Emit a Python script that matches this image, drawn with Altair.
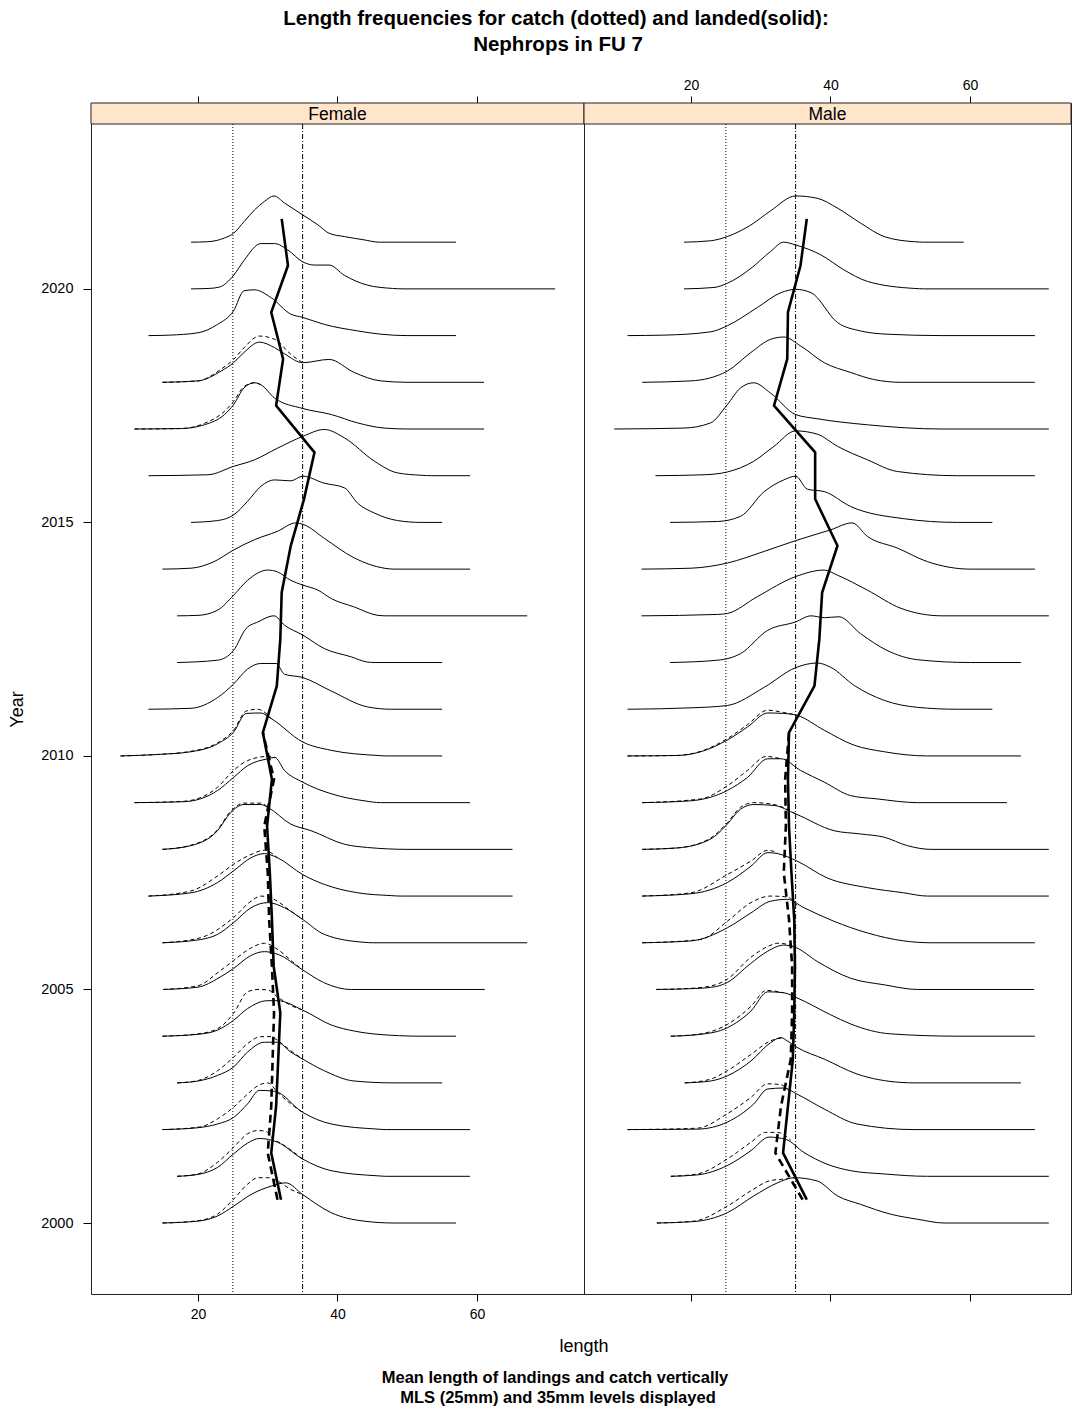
import altair as alt
import pandas as pd

# ---------------- data ----------------
SEXES = ["Female", "Male"]
REF_LINES = [25, 35]          # MLS (25mm) and 35mm
YEAR_TICKS = [2000, 2005, 2010, 2015, 2020]
X_TICKS = [20, 40, 60]
TITLE_LINES = ["Length frequencies for catch (dotted) and landed(solid):", "Nephrops in FU 7"]
SUB_LINES = ["Mean length of landings and catch vertically", "MLS (25mm) and 35mm levels displayed"]
X_LABEL = "length"
Y_LABEL = "Year"

# (length, relative frequency) pairs per year
F_LAND = {
    2021: [(19.0,0),(21.4,0.01),(23.8,0.09),(25.1,0.19),(26.6,0.44),(28.1,0.69),(29.5,0.87),(30.9,0.99),(32.4,0.84),(35.0,0.585),(37.2,0.37),(38.8,0.19),(41.0,0.12),(43.8,0.05),(46.0,0.0),(57.0,0)],
    2020: [(19.0,0),(21.6,0.01),(23.1,0.04),(25.1,0.29),(26.6,0.61),(29.0,0.97),(31.0,0.97),(32.9,0.83),(35.0,0.58),(36.7,0.51),(38.8,0.51),(41.0,0.29),(44.3,0.08),(47.9,0.01),(49.5,0),(71.2,0)],
    2019: [(12.9,0),(15.9,0.01),(20.0,0.06),(22.8,0.24),(25.1,0.53),(26.6,0.96),(28.1,0.98),(30.5,0.81),(33.3,0.46),(35.0,0.39),(38.1,0.24),(42.9,0.10),(46.2,0.03),(50.1,0),(57.0,0)],
    2018: [(14.9,0),(20.0,0.03),(23.3,0.24),(25.1,0.42),(26.6,0.64),(28.8,0.86),(31.0,0.74),(32.4,0.61),(35.0,0.42),(38.8,0.49),(42.4,0.21),(46.2,0.03),(50.1,0),(61.0,0)],
    2017: [(10.9,0),(17.6,0.01),(20.9,0.09),(23.8,0.31),(25.1,0.52),(26.6,0.88),(28.1,0.99),(29.0,0.95),(31.0,0.66),(35.0,0.44),(39.1,0.31),(42.9,0.13),(46.7,0.02),(50.1,0),(61.0,0)],
    2016: [(12.9,0),(21.4,0.02),(25.1,0.2),(28.1,0.34),(31.4,0.59),(35.0,0.84),(38.1,0.99),(41.0,0.81),(45.3,0.31),(48.6,0.06),(52.0,0.01),(53.5,0),(59.0,0)],
    2015: [(19.0,0),(22.8,0.04),(25.1,0.16),(27.1,0.45),(29.0,0.77),(31.0,0.91),(33.3,0.89),(35.0,0.99),(38.1,0.84),(41.0,0.74),(42.9,0.41),(45.3,0.2),(48.6,0.04),(52.0,0),(55.0,0)],
    2014: [(14.9,0),(19.0,0.02),(22.3,0.16),(25.1,0.41),(28.1,0.63),(31.4,0.81),(34.0,0.99),(35.2,0.95),(38.1,0.66),(42.4,0.24),(46.7,0.02),(48.1,0),(59.0,0)],
    2013: [(17.0,0),(20.0,0.01),(22.8,0.12),(25.1,0.44),(27.1,0.76),(30.0,0.98),(31.4,0.94),(33.3,0.76),(35.0,0.66),(37.2,0.55),(39.1,0.37),(42.4,0.19),(45.8,0.01),(47.0,0),(67.2,0)],
    2012: [(17.0,0),(22.8,0.05),(25.1,0.26),(26.9,0.73),(28.6,0.87),(30.9,1.0),(32.4,0.8),(35.0,0.59),(38.1,0.3),(42.0,0.12),(44.3,0.01),(45.5,0),(55.0,0)],
    2011: [(12.9,0),(19.0,0.02),(22.8,0.25),(25.1,0.54),(27.1,0.86),(29.0,0.98),(31.2,0.98),(32.4,0.75),(35.0,0.68),(39.1,0.39),(44.3,0.05),(47.7,0),(55.0,0)],
    2010: [(8.9,0),(14.0,0.03),(19.0,0.09),(22.8,0.26),(25.1,0.51),(26.9,0.91),(29.0,0.92),(30.5,0.8),(35.0,0.3),(39.1,0.12),(45.8,0.01),(47.0,0),(55.0,0)],
    2009: [(10.9,0),(18.0,0.02),(22.8,0.26),(25.1,0.54),(27.1,0.79),(30.0,0.94),(31.0,0.97),(32.4,0.69),(35.0,0.44),(39.1,0.19),(43.8,0.04),(46.2,0),(59.0,0)],
    2008: [(14.9,0),(19.0,0.08),(22.8,0.4),(24.7,0.79),(26.6,0.96),(29.0,0.96),(30.0,0.9),(33.3,0.54),(36.2,0.4),(41.0,0.11),(44.3,0.04),(50.1,0),(65.1,0)],
    2007: [(12.9,0),(19.0,0.07),(22.8,0.29),(25.1,0.54),(27.6,0.82),(29.5,0.91),(31.4,0.82),(35.0,0.46),(38.1,0.25),(42.9,0.07),(47.7,0.01),(49.0,0),(65.1,0)],
    2006: [(14.9,0),(20.4,0.07),(22.8,0.18),(25.1,0.43),(27.6,0.75),(30.0,0.86),(32.4,0.75),(35.0,0.5),(38.1,0.18),(43.8,0.01),(45.0,0),(67.2,0)],
    2005: [(15.0,0),(20.0,0.05),(23.0,0.25),(25.1,0.45),(27.5,0.72),(29.5,0.81),(31.5,0.75),(35.0,0.42),(38.0,0.15),(42.0,0),(61.1,0)],
    2004: [(14.9,0),(20.0,0.04),(22.8,0.13),(25.1,0.34),(27.1,0.59),(30.0,0.76),(31.4,0.76),(35.0,0.56),(39.1,0.24),(42.4,0.11),(45.8,0.04),(52.0,0),(57.0,0)],
    2003: [(17.0,0),(20.0,0.04),(22.8,0.16),(25.1,0.34),(27.1,0.66),(29.5,0.87),(31.4,0.87),(33.3,0.66),(35.0,0.51),(38.1,0.26),(42.4,0.04),(48.1,0),(55.0,0)],
    2002: [(14.9,0),(20.0,0.04),(22.8,0.12),(25.1,0.26),(27.1,0.55),(28.8,0.84),(31.0,0.82),(35.0,0.37),(39.1,0.12),(45.8,0.01),(47.0,0),(59.0,0)],
    2001: [(17.0,0),(20.0,0.04),(22.8,0.19),(25.1,0.48),(27.1,0.71),(28.8,0.81),(31.4,0.73),(35.0,0.37),(39.1,0.12),(45.8,0.01),(47.0,0),(59.0,0)],
    2000: [(14.9,0),(20.0,0.04),(22.8,0.15),(25.1,0.36),(27.6,0.61),(30.5,0.79),(32.6,0.86),(35.0,0.61),(39.1,0.22),(43.8,0.04),(48.1,0),(57.0,0)],
}
F_CATCH = {
    2018: [(14.9,0),(20.0,0.03),(23.3,0.28),(25.1,0.49),(26.6,0.74),(28.8,0.99),(31.0,0.92),(33.3,0.6),(35.0,0.42)],
    2017: [(10.9,0),(17.6,0.01),(20.9,0.12),(23.8,0.38),(25.1,0.59),(26.6,0.91),(28.1,0.99),(29.0,0.95)],
    2010: [(8.9,0),(14.0,0.03),(19.0,0.1),(22.8,0.28),(25.1,0.55),(26.9,0.96),(28.5,1.0),(30.0,0.88),(30.5,0.8)],
    2009: [(10.9,0),(18.0,0.03),(22.8,0.33),(25.1,0.69),(27.1,0.9),(30.0,0.99),(31.0,0.97)],
    2008: [(14.9,0),(19.0,0.09),(22.8,0.42),(24.7,0.82),(26.6,0.99),(29.0,0.99),(30.0,0.9)],
    2007: [(12.9,0),(19.0,0.11),(22.8,0.43),(25.1,0.68),(27.6,0.89),(29.5,0.98),(31.4,0.82)],
    2006: [(14.9,0),(20.4,0.11),(25.1,0.54),(27.6,0.89),(29.0,1.0),(30.9,0.93),(33.3,0.68),(35.0,0.5)],
    2005: [(15.0,0),(20.0,0.08),(23.0,0.38),(25.1,0.62),(27.5,0.88),(29.5,0.99),(31.5,0.85),(33.5,0.6),(35.0,0.42)],
    2004: [(14.9,0),(20.0,0.05),(22.8,0.16),(25.1,0.49),(27.1,0.95),(28.6,1.0),(30.0,0.99),(31.4,0.84),(33.3,0.66),(35.0,0.56)],
    2003: [(17.0,0),(20.0,0.05),(22.8,0.26),(25.1,0.55),(27.1,0.84),(29.0,0.99),(30.5,0.99),(31.4,0.91),(33.3,0.69),(35.0,0.51)],
    2002: [(14.9,0),(20.4,0.06),(22.8,0.23),(25.1,0.48),(27.1,0.76),(28.6,0.94),(30.0,1.0),(31.4,0.8),(33.3,0.55),(35.0,0.37)],
    2001: [(17.0,0),(20.0,0.05),(22.8,0.3),(25.1,0.62),(27.1,0.91),(28.6,0.98),(29.8,0.96),(30.5,0.84),(32.4,0.66),(35.0,0.37)],
    2000: [(14.9,0),(20.0,0.05),(22.8,0.19),(25.1,0.51),(27.1,0.83),(28.6,0.97),(30.0,0.97),(31.4,0.9),(33.3,0.72),(35.0,0.61)],
}
M_LAND = {
    2021: [(19.0,0),(22.8,0.03),(25.2,0.12),(28.6,0.37),(31.4,0.67),(35.0,0.99),(38.1,0.94),(41.0,0.73),(44.3,0.41),(47.7,0.12),(52.0,0.01),(53.5,0),(59.1,0)],
    2020: [(19.0,0),(23.3,0.03),(25.2,0.12),(28.6,0.44),(31.4,0.8),(33.3,1.0),(35.0,0.94),(38.6,0.73),(41.9,0.41),(45.3,0.16),(52.0,0.01),(53.5,0),(71.3,0)],
    2019: [(10.9,0),(16.1,0.01),(22.8,0.08),(25.2,0.21),(29.5,0.6),(32.9,0.92),(35.0,0.99),(37.2,0.92),(41.0,0.28),(44.3,0.1),(48.1,0.03),(56.0,0),(69.3,0)],
    2018: [(13.0,0),(20.0,0.03),(25.2,0.24),(28.6,0.64),(31.4,0.92),(33.3,0.97),(35.7,0.78),(39.1,0.42),(42.9,0.21),(46.2,0.06),(50.1,0),(69.3,0)],
    2017: [(9.0,0),(19.0,0.02),(22.8,0.13),(25.2,0.52),(27.1,0.88),(29.0,0.99),(31.4,0.77),(35.0,0.31),(38.1,0.22),(45.3,0.09),(56.0,0),(71.3,0)],
    2016: [(14.9,0),(21.9,0.02),(25.2,0.08),(29.0,0.31),(31.9,0.63),(35.0,0.96),(38.1,0.89),(41.0,0.63),(45.3,0.34),(49.6,0.09),(58.2,0),(69.3,0)],
    2015: [(17.0,0),(23.8,0.02),(27.1,0.13),(30.5,0.66),(33.3,0.91),(35.0,0.99),(36.7,0.71),(39.1,0.66),(42.9,0.34),(50.5,0.08),(58.2,0),(63.2,0)],
    2014: [(12.9,0),(20.0,0.02),(25.2,0.13),(30.5,0.38),(35.0,0.61),(40.0,0.84),(43.1,0.99),(45.3,0.7),(49.6,0.45),(53.9,0.16),(60.1,0),(69.3,0)],
    2013: [(12.9,0),(23.8,0.03),(25.2,0.05),(29.5,0.41),(35.0,0.84),(39.1,0.98),(41.0,0.87),(45.3,0.55),(50.1,0.16),(56.0,0),(71.3,0)],
    2012: [(17.0,0),(23.8,0.05),(27.1,0.19),(31.0,0.69),(35.0,0.87),(37.2,1.0),(39.1,0.96),(41.2,0.98),(44.3,0.62),(48.1,0.26),(52.5,0.06),(60.1,0),(67.3,0)],
    2011: [(10.9,0),(20.0,0.03),(25.2,0.08),(30.5,0.47),(35.0,0.89),(38.1,0.99),(40.0,0.9),(43.4,0.51),(47.7,0.19),(52.5,0.04),(58.2,0),(63.2,0)],
    2010: [(10.9,0),(18.0,0.01),(21.4,0.09),(25.2,0.34),(28.1,0.62),(31.0,0.92),(33.3,0.91),(35.2,0.87),(39.1,0.55),(43.4,0.23),(47.7,0.09),(53.9,0),(67.3,0)],
    2009: [(13.0,0),(20.0,0.04),(25.2,0.26),(28.1,0.54),(31.0,0.94),(32.9,0.94),(35.7,0.69),(39.1,0.44),(42.9,0.15),(46.7,0.08),(52.5,0),(65.3,0)],
    2008: [(13.0,0),(18.0,0.03),(22.8,0.22),(25.2,0.54),(27.1,0.86),(29.0,0.96),(31.9,0.94),(35.0,0.76),(40.5,0.4),(44.3,0.33),(47.7,0.26),(51.0,0.08),(54.4,0),(71.3,0)],
    2007: [(13.0,0),(20.0,0.05),(25.2,0.29),(28.6,0.64),(31.0,0.93),(32.4,0.91),(35.2,0.75),(39.5,0.39),(45.3,0.18),(50.5,0.07),(53.9,0),(71.3,0)],
    2006: [(13.0,0),(20.0,0.04),(25.2,0.32),(28.6,0.64),(31.4,0.89),(33.8,0.93),(36.2,0.75),(40.5,0.46),(45.3,0.21),(50.5,0.04),(54.4,0),(69.3,0)],
    2005: [(15.0,0),(20.5,0.02),(23.5,0.06),(25.2,0.15),(28.5,0.55),(31.0,0.82),(33.3,0.95),(35.0,0.9),(38.1,0.6),(42.9,0.24),(47.7,0.1),(52.5,0),(69.2,0)],
    2004: [(17.1,0),(21.4,0.04),(25.2,0.18),(28.6,0.54),(31.0,0.95),(33.3,0.93),(35.2,0.82),(40.0,0.46),(42.9,0.26),(48.6,0.05),(58.2,0),(69.3,0)],
    2003: [(19.1,0),(22.8,0.04),(25.2,0.15),(28.6,0.47),(31.4,0.86),(32.9,0.97),(33.8,0.9),(35.2,0.76),(39.1,0.51),(43.8,0.19),(50.1,0.01),(52.0,0),(67.3,0)],
    2002: [(10.9,0),(20.9,0.01),(25.2,0.16),(29.0,0.55),(31.0,0.87),(33.3,0.89),(35.2,0.76),(39.1,0.44),(43.8,0.12),(52.0,0),(69.3,0)],
    2001: [(17.1,0),(20.9,0.03),(25.2,0.23),(28.6,0.55),(31.2,0.84),(33.6,0.79),(36.2,0.51),(39.5,0.26),(42.9,0.12),(47.7,0.05),(53.9,0),(71.3,0)],
    2000: [(15.1,0),(20.4,0.03),(25.2,0.22),(29.0,0.58),(32.4,0.86),(34.8,0.97),(38.1,0.9),(41.0,0.58),(44.3,0.4),(48.6,0.19),(52.5,0.08),(56.3,0),(71.3,0)],
}
M_CATCH = {
    2010: [(10.9,0),(18.0,0.01),(21.4,0.1),(25.2,0.37),(28.1,0.67),(31.0,0.98),(33.3,0.93),(35.2,0.87)],
    2009: [(13.0,0),(21.4,0.08),(25.2,0.36),(28.1,0.69),(30.8,0.99),(32.9,0.94)],
    2008: [(13.0,0),(18.0,0.03),(22.8,0.24),(25.2,0.57),(27.1,0.9),(29.0,1.0),(31.9,0.96),(35.0,0.76)],
    2007: [(13.0,0),(20.0,0.07),(25.2,0.46),(28.6,0.75),(31.0,0.98),(32.4,0.93)],
    2006: [(13.0,0),(21.4,0.07),(25.2,0.46),(28.6,0.86),(31.4,1.0),(33.8,0.98),(35.2,0.8)],
    2005: [(15.0,0),(20.5,0.03),(23.5,0.1),(25.2,0.22),(28.5,0.68),(31.0,0.92),(32.5,0.99),(34.0,0.96),(35.0,0.9)],
    2004: [(17.1,0),(21.4,0.05),(25.2,0.25),(28.6,0.64),(30.8,0.98),(33.3,0.93)],
    2003: [(19.1,0),(22.8,0.08),(25.2,0.26),(28.6,0.61),(31.4,0.9),(33.3,0.97)],
    2002: [(10.9,0),(20.9,0.03),(25.2,0.34),(28.6,0.69),(31.0,0.98),(32.9,0.96),(34.3,0.8)],
    2001: [(17.1,0),(20.9,0.05),(25.2,0.37),(28.6,0.73),(30.7,0.94),(32.4,0.94),(34.3,0.77)],
    2000: [(15.1,0),(20.4,0.04),(25.2,0.36),(28.6,0.69),(31.4,0.91),(33.3,0.94),(34.8,0.97)],
}

# mean lengths (landings for 2000-2021, catch for 2000-2010)
MEAN_YEARS_LAND = list(range(2000, 2022))
MEAN_YEARS_CATCH = list(range(2000, 2011))
F_MEAN_LAND = [31.9, 30.5, 31.2, 31.5, 31.8, 30.85, 30.6, 30.3, 29.9, 30.6, 29.3,
               31.3, 31.8, 32.0, 33.3, 35.2, 36.7, 31.2, 32.2, 30.5, 32.9, 32.0]
F_MEAN_CATCH = [31.4, 30.0, 30.5, 30.7, 30.9, 30.6, 30.2, 30.0, 29.5, 30.9, 29.3]
M_MEAN_LAND = [36.6, 33.2, 33.9, 34.6, 34.8, 34.9, 34.8, 34.4, 34.05, 33.9, 34.05,
               37.7, 38.4, 38.8, 41.0, 37.8, 37.8, 31.9, 33.8, 33.9, 35.7, 36.6]
M_MEAN_CATCH = [36.0, 32.1, 32.9, 34.3, 34.5, 34.5, 34.05, 33.3, 33.6, 33.5, 34.05]

# ---------------- tables ----------------
rows = []
for sex, typ, d in [("Female", "landed", F_LAND), ("Female", "catch", F_CATCH),
                    ("Male", "landed", M_LAND), ("Male", "catch", M_CATCH)]:
    for yr, pts in d.items():
        for L, h in pts:
            rows.append({"sex": sex, "type": typ, "year": yr, "length": L, "y": yr + h})
curves = pd.DataFrame(rows)

mrows = []
for sex, typ, years, vals in [("Female", "landed", MEAN_YEARS_LAND, F_MEAN_LAND),
                              ("Female", "catch", MEAN_YEARS_CATCH, F_MEAN_CATCH),
                              ("Male", "landed", MEAN_YEARS_LAND, M_MEAN_LAND),
                              ("Male", "catch", MEAN_YEARS_CATCH, M_MEAN_CATCH)]:
    for yr, v in zip(years, vals):
        mrows.append({"sex": sex, "type": typ, "year": yr, "length": v, "y": yr + 0.5})
means = pd.DataFrame(mrows)

ONE = pd.DataFrame({"k": [0]})

PX_PER_MM = 6.975
X_MIN = 4.66
PANEL_H = 1191
STRIP_H = 21
FONT = "Liberation Sans"
VIEW = alt.ViewBackground(stroke="#222222", strokeWidth=1)


def panel(sex, width, top_labels, bottom_labels, show_y):
    xmax = X_MIN + width / PX_PER_MM
    xs = alt.Scale(domain=[X_MIN, xmax], nice=False, zero=False)
    ys = alt.Scale(domain=[1998.48, 2023.98], nice=False, zero=False)
    common = dict(values=X_TICKS, grid=False, domain=False, tickSize=7, tickColor="black",
                  tickWidth=1, labelFontSize=14, labelColor="black", labelFont=FONT, title=None)
    bottom_axis = alt.Axis(orient="bottom", labels=bottom_labels, labelPadding=6, **common)
    top_axis = alt.Axis(orient="top", labels=top_labels, labelPadding=4, **common)
    if show_y:
        yaxis = alt.Axis(orient="left", values=YEAR_TICKS, format="d", grid=False, domain=False,
                         tickSize=8, tickColor="black", labelFontSize=14.5, labelColor="black",
                         labelPadding=10, labelFont=FONT, title=Y_LABEL, titleFontSize=18,
                         titleFontWeight="normal", titleColor="black", titleFont=FONT,
                         titleX=-74, titleY=606, titleBaseline="middle", titleAngle=270)
    else:
        yaxis = None

    cl = curves[(curves.sex == sex) & (curves.type == "landed")]
    cc = curves[(curves.sex == sex) & (curves.type == "catch")]
    ml = means[(means.sex == sex) & (means.type == "landed")]
    mc = means[(means.sex == sex) & (means.type == "catch")]

    strip = alt.Chart(ONE).mark_rect(fill="#ffe5cc", stroke="#222222", strokeWidth=1).encode(
        x=alt.value(0), x2=alt.value(width), y=alt.value(0), y2=alt.value(STRIP_H))
    strip_txt = alt.Chart(ONE).mark_text(fontSize=17.5, font=FONT, color="black", baseline="middle").encode(
        x=alt.value(width / 2), y=alt.value(STRIP_H / 2 + 1), text=alt.value(sex))

    land = alt.Chart(cl).mark_line(color="black", strokeWidth=1, interpolate="monotone").encode(
        x=alt.X("length:Q", scale=xs, axis=bottom_axis),
        y=alt.Y("y:Q", scale=ys, axis=yaxis),
        detail="year:N", order="length:Q")
    catch = alt.Chart(cc).mark_line(color="black", strokeWidth=1, strokeDash=[4, 3],
                                    interpolate="monotone").encode(
        x=alt.X("length:Q", scale=xs, axis=top_axis),
        y=alt.Y("y:Q", scale=ys, axis=yaxis),
        detail="year:N", order="length:Q")

    r25 = alt.Chart(pd.DataFrame({"L": REF_LINES[:1]})).mark_rule(
        color="black", strokeWidth=1, strokeDash=[1, 2]).encode(
        x=alt.X("L:Q", scale=xs, axis=None), y=alt.value(STRIP_H), y2=alt.value(PANEL_H))
    r35 = alt.Chart(pd.DataFrame({"L": REF_LINES[1:]})).mark_rule(
        color="black", strokeWidth=1, strokeDash=[5, 2, 1, 2]).encode(
        x=alt.X("L:Q", scale=xs, axis=None), y=alt.value(STRIP_H), y2=alt.value(PANEL_H))

    mean_l = alt.Chart(ml).mark_line(color="black", strokeWidth=2.6).encode(
        x=alt.X("length:Q", scale=xs, axis=None),
        y=alt.Y("y:Q", scale=ys, axis=yaxis), order="year:Q")
    mean_c = alt.Chart(mc).mark_line(color="black", strokeWidth=2.6, strokeDash=[8, 5]).encode(
        x=alt.X("length:Q", scale=xs, axis=None),
        y=alt.Y("y:Q", scale=ys, axis=yaxis), order="year:Q")

    layers = [strip, strip_txt, r25, r35, land, catch, mean_l, mean_c]

    if show_y:
        # overall title, x label and bottom note placed relative to this panel
        layers += [
            alt.Chart(ONE).mark_text(fontSize=20.5, fontWeight="bold", font=FONT, color="black",
                                     baseline="middle").encode(
                x=alt.value(465), y=alt.value(-84), text=alt.value(TITLE_LINES[0])),
            alt.Chart(ONE).mark_text(fontSize=20.5, fontWeight="bold", font=FONT, color="black",
                                     baseline="middle").encode(
                x=alt.value(467), y=alt.value(-58), text=alt.value(TITLE_LINES[1])),
            alt.Chart(ONE).mark_text(fontSize=18, font=FONT, color="black", baseline="middle").encode(
                x=alt.value(width), y=alt.value(1244), text=alt.value(X_LABEL)),
            alt.Chart(ONE).mark_text(fontSize=16.5, fontWeight="bold", font=FONT, color="black",
                                     baseline="middle").encode(
                x=alt.value(464), y=alt.value(1275), text=alt.value(SUB_LINES[0])),
            alt.Chart(ONE).mark_text(fontSize=16.5, fontWeight="bold", font=FONT, color="black",
                                     baseline="middle").encode(
                x=alt.value(467), y=alt.value(1295), text=alt.value(SUB_LINES[1])),
        ]

    return alt.layer(*layers).resolve_axis(x="independent").resolve_scale(x="shared").properties(
        width=width, height=PANEL_H, view=VIEW)


female = panel("Female", 493, top_labels=False, bottom_labels=True, show_y=True)
male = panel("Male", 487, top_labels=True, bottom_labels=False, show_y=False)

chart = alt.hconcat(female, male, spacing=0, bounds="flush").configure_view(
    stroke="#222222", strokeWidth=1).configure(
    font=FONT, background="white",
    padding={"left": 7, "top": 8, "right": 0, "bottom": 5})

chart.save("out.html", embed_options={"renderer": "svg", "actions": False})
